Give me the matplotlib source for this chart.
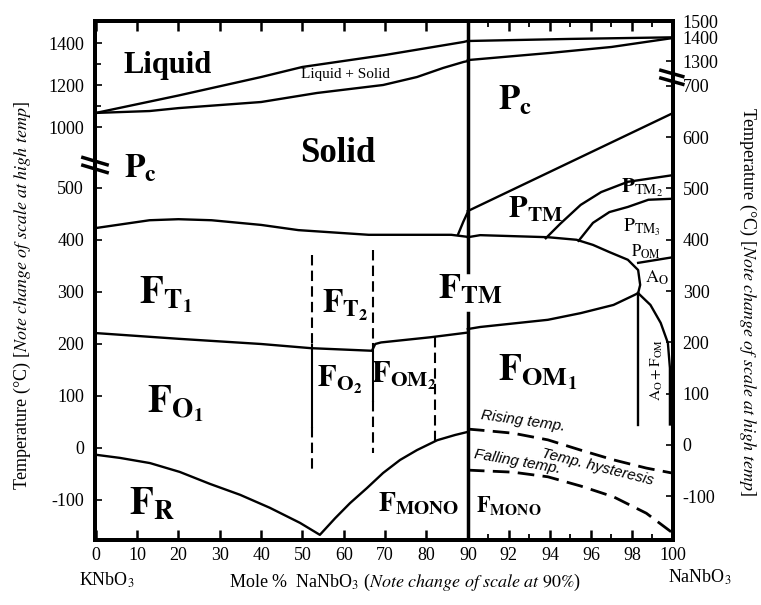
import numpy as np
import matplotlib
matplotlib.use("Agg")
import matplotlib.pyplot as plt

plt.rcParams['font.family'] = ['Liberation Serif', 'DejaVu Serif']
plt.rcParams['mathtext.fontset'] = 'stix'
plt.rcParams['axes.unicode_minus'] = False

# ---------------- data: mole % NaNbO3 vs temperature (degC) ----------------
# x <= 90 is read on the left temperature axis, x >= 90 on the right one
liq_x = [0, 20, 40, 50, 70, 89, 90]
liq_T = [1067, 1150, 1238, 1286, 1343, 1405, 1410]
sol_x = [0, 13, 20, 40, 53.5, 69.5, 77.7, 84, 89, 90]
sol_T = [1067, 1076, 1090, 1119, 1162, 1200, 1238, 1281, 1310, 1314]
liq_r_x = [90, 95, 100]
liq_r_T = [1387, 1396, 1404]
sol_r_x = [90, 94, 97, 100]
sol_r_T = [1304, 1335, 1361, 1400]

cub_x = [0, 13, 20, 28, 40, 49, 66, 86, 90]
cub_T = [423, 438, 440, 438, 429, 419, 410, 410, 406]
cub_r_x = [90, 90.6, 93.9, 95.3, 96.1, 96.9, 97.8, 98.3, 98.4, 98.3]
cub_r_T = [405, 409, 405, 400, 390, 376, 361, 341, 312, 296]

tet_x = [0, 20, 40, 52, 66.8, 67.6, 69, 81, 90]
tet_T = [221, 210, 200, 192, 187, 200, 203, 213, 222]
tet_r_x = [90, 90.6, 93.9, 95.5, 97.1, 98.1, 98.3]
tet_r_T = [226, 230, 244, 257, 273, 292, 296]

rh_x = [0, 5.8, 13.1, 20.3, 27.6, 34.9, 42.1, 49.4, 54.2, 57.9, 61.5, 65.6,
        69.5, 73.6, 77.7, 82.6, 86.9, 90]
rh_T = [-13, -19, -29, -46, -69, -90, -115, -144, -167, -135, -106, -77,
        -48, -23, -4, 15, 25, 31]

ptm_l_x = [87.6, 88.9, 90]
ptm_l_T = [410, 435, 454]
ptm_x = [90, 100]
ptm_T = [456, 647]
ptm2_x = [93.8, 94.5, 95.5, 96.5, 97.8, 100]
ptm2_T = [403, 431, 468, 493, 513, 526]
ptm3_x = [95.4, 96.1, 96.9, 97.8, 98.8, 100]
ptm3_T = [398, 433, 454, 464, 478, 480]
pom_x = [98.3, 100]
pom_T = [355, 366]
ao_l_x = [98.3, 98.3]
ao_l_T = [296, 39]
ao_r_x = [98.3, 98.9, 99.4, 99.75, 99.85, 99.85]
ao_r_T = [296, 273, 238, 199, 150, 40]

rise_x = [90, 90.6, 92.2, 93.9, 95.5, 97.1, 98.7, 100]
rise_T = [31, 29, 23, 10, -10, -29, -45, -55]
fall_x = [90, 92.2, 93.9, 95.5, 97.1, 98.7, 100]
fall_T = [-49, -53, -62, -80, -101, -133, -172]

# dashed / solid vertical boundaries: x, dashed top, solid top, solid bottom, dashed bottom
vert_x = [52.3, 67.0, 82.0]
vert_top = [371, 381, 213]
vert_s1 = [198, 200, 213]
vert_s2 = [40, 90, 213]
vert_bot = [-46, -10, 10]

xticks = [0, 10, 20, 30, 40, 50, 60, 70, 80, 90, 92, 94, 96, 98, 100]
xminor = [91, 93, 95, 97, 99]
yl_ticks = [-100, 0, 100, 200, 300, 400, 500, 1000, 1200, 1400]
yl_minor = [1100, 1300]
yr_ticks = [-100, 0, 100, 200, 300, 400, 500, 600, 700, 1300, 1400, 1500]

# ---------------- broken scales ----------------
xm = np.array([-20.0, 90.0, 110.0])
xp = np.array([96 - 20 * 4.13, 467.7, 467.7 + 20 * 20.5])
tl = np.array([-300.0, 560.0, 920.0, 1600.0])
pl = np.array([604.0, 156.8, 143.8, 1.0])
tr = np.array([-300.0, 720.0, 1270.0, 1400.0, 1500.0, 1700.0])
pr = np.array([598.9, 75.6, 67.9, 38.0, 21.0, -13.0])


def yfuncs(t, p):
    return (lambda v: -np.interp(v, t, p), lambda u: np.interp(u, -p, t))


fig = plt.figure(figsize=(7.61, 6.05), dpi=100)
ax = fig.add_axes([95 / 761, 65 / 605, 578 / 761, 519 / 605])
ax.set_xscale('function', functions=(lambda m: np.interp(m, xm, xp),
                                     lambda q: np.interp(q, xp, xm)))
ax.set_yscale('function', functions=yfuncs(tl, pl))
ax2 = ax.twinx()
ax2.set_yscale('function', functions=yfuncs(tr, pr))
ax.set_xlim(-0.2, 100)
ax.set_ylim(np.interp(-540, -pl, tl), np.interp(-21, -pl, tl))
ax2.set_ylim(np.interp(-540, -pr, tr), 1500)

lw = 1.7
k = 'black'
for x, T in [(liq_x, liq_T), (sol_x, sol_T), (cub_x, cub_T), (tet_x, tet_T),
             (rh_x, rh_T), (ptm_l_x, ptm_l_T)]:
    ax.plot(x, T, color=k, lw=lw)
for x, T in [(liq_r_x, liq_r_T), (sol_r_x, sol_r_T), (cub_r_x, cub_r_T),
             (tet_r_x, tet_r_T), (ptm_x, ptm_T), (ptm2_x, ptm2_T),
             (ptm3_x, ptm3_T), (pom_x, pom_T), (ao_l_x, ao_l_T), (ao_r_x, ao_r_T)]:
    ax2.plot(x, T, color=k, lw=lw)
for x, T in [(rise_x, rise_T), (fall_x, fall_T)]:
    ax2.plot(x, T, color=k, lw=2, dashes=(6, 3))

for x, a, b, c, d in zip(vert_x, vert_top, vert_s1, vert_s2, vert_bot):
    ax.plot([x, x], [a, b], color=k, lw=1.5, dashes=(5, 2.5))
    ax.plot([x, x], [b, c], color=k, lw=1.5)
    ax.plot([x, x], [c, d], color=k, lw=1.5, dashes=(5, 2.5))

# the 90 % line (scale change), interrupted by the F_TM label
y0, y1 = ax.get_ylim()
ax.plot([90, 90], [y0, 260], color=k, lw=2.5)
ax.plot([90, 90], [338, y1], color=k, lw=2.5)

# ---------------- axes styling ----------------
for a in (ax, ax2):
    for s in a.spines.values():
        s.set_linewidth(2.8)
ax.set_xticks(xticks)
ax.set_xticks(xminor, minor=True)
ax.set_yticks(yl_ticks)
ax.set_yticks(yl_minor, minor=True)
ax.set_yticklabels([str(t) for t in yl_ticks])
ax2.set_yticks(yr_ticks)
ax2.set_yticklabels([str(t) for t in yr_ticks])
ax2.yaxis.set_minor_locator(matplotlib.ticker.NullLocator())
ax.tick_params(axis='x', which='major', direction='in', top=True, length=7,
               width=1.8, labelsize=13, pad=5)
ax.tick_params(axis='x', which='minor', direction='in', top=True, length=4, width=1.3)
ax.tick_params(axis='y', which='major', direction='in', length=5, width=1.2,
               labelsize=13, pad=8)
ax.tick_params(axis='y', which='minor', direction='in', length=4, width=1.2)
ax2.tick_params(axis='y', direction='in', length=5, width=1.2, labelsize=13, pad=7)

ax.set_ylabel(r'Temperature (°C) [$\mathit{Note\ change\ of\ scale\ at\ high\ temp}$]',
              fontsize=13)
ax.yaxis.set_label_coords(-0.108, 0.47)
ax2.set_ylabel(r'Temperature (°C) [$\mathit{Note\ change\ of\ scale\ at\ high\ temp}$]',
               fontsize=13, rotation=-90)
ax2.yaxis.set_label_coords(1.148, 0.46)

ax.text(0.021, -0.077, r'KNbO$_3$', transform=ax.transAxes, ha='center', va='center', fontsize=13)
ax.text(0.536, -0.081, r'Mole %  NaNbO$_3$ ($\mathit{Note\ change\ of\ scale\ at\ 90\%}$)',
        transform=ax.transAxes, ha='center', va='center', fontsize=13)
ax.text(1.047, -0.071, r'NaNbO$_3$', transform=ax.transAxes, ha='center', va='center', fontsize=13)

# break marks on both temperature axes
for yb in (0.737, 0.722):
    ax.plot([-0.021, 0.021], [yb, yb - 0.014], transform=ax.transAxes, color=k,
            lw=2.5, clip_on=False)
for yb in (0.905, 0.89):
    ax.plot([0.979, 1.017], [yb, yb - 0.012], transform=ax.transAxes, color=k,
            lw=2.5, clip_on=False)

# ---------------- phase labels ----------------
big = dict(ha='center', va='center', color=k)
ax.text(17.4, 1295, 'Liquid', fontsize=22, fontweight='bold', **big)
ax.text(60.3, 1248, 'Liquid + Solid', fontsize=11, **big)
ax2.text(58.6, 569, 'Solid', fontsize=25, fontweight='bold', **big)
ax.text(10.7, 538, r'$\mathbf{P_c}$', fontsize=24, **big)
ax2.text(92.3, 672, r'$\mathbf{P_c}$', fontsize=25, **big)
ax.text(17.0, 294, r'$\mathbf{F_{T_1}}$', fontsize=28, **big)
ax.text(60.3, 275, r'$\mathbf{F_{T_2}}$', fontsize=24, **big)
ax.text(90.1, 304, r'$\mathbf{F_{TM}}$', fontsize=26, **big)
ax.text(19.1, 85, r'$\mathbf{F_{O_1}}$', fontsize=28, **big)
ax.text(59.1, 131, r'$\mathbf{F_{O_2}}$', fontsize=22, **big)
ax.text(74.6, 140, r'$\mathbf{F_{OM_2}}$', fontsize=22, **big)
ax2.text(93.4, 142, r'$\mathbf{F_{OM_1}}$', fontsize=27, **big)
ax.text(13.6, -110, r'$\mathbf{F_R}$', fontsize=28, **big)
ax.text(78.2, -108, r'$\mathbf{F_{MONO}}$', fontsize=20, **big)
ax2.text(92.0, -119, r'$\mathbf{F_{MONO}}$', fontsize=16, **big)
ax2.text(93.3, 458, r'$\mathbf{P_{TM}}$', fontsize=22, **big)
ax2.text(98.5, 501, r'$\mathbf{P}_{\mathrm{TM}_2}$', fontsize=15, **big)
ax2.text(98.5, 425, r'$\mathrm{P}_{\mathrm{TM}_3}$', fontsize=14, **big)
ax2.text(98.7, 376, r'$\mathrm{P}_{\mathrm{OM}}$', fontsize=12, **big)
ax2.text(99.2, 326, r'$\mathrm{A}_{\mathrm{O}}$', fontsize=13, **big)
ax2.text(99.2, 146, r'$\mathrm{A}_{\mathrm{O}}+\mathrm{F}_{\mathrm{OM}}$', fontsize=11,
         rotation=90, **big)
ax2.text(92.7, 47, 'Rising temp.', fontsize=11, style='italic', family='Liberation Sans',
         rotation=-8, **big)
ax2.text(96.3, -43, 'Temp. hysteresis', fontsize=11, style='italic', family='Liberation Sans',
         rotation=-14, **big)
ax2.text(92.4, -33, 'Falling temp.', fontsize=11, style='italic', family='Liberation Sans',
         rotation=-10, **big)

fig.savefig('out.png', dpi=100)
